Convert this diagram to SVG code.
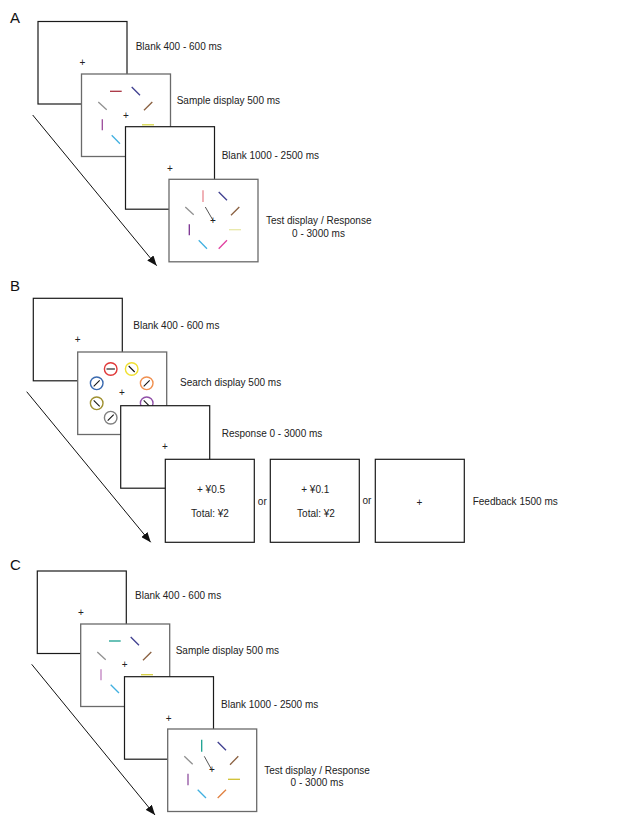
<svg xmlns="http://www.w3.org/2000/svg" width="628" height="825" viewBox="0 0 628 825">
<style>
.blank{fill:#fff;stroke:#1a1a1a;stroke-width:1.2}
.disp{fill:#fff;stroke:#6a6a6a;stroke-width:1.3}
.lbl{font-family:"Liberation Sans",Arial,sans-serif;font-size:10px;fill:#222}
.mid{text-anchor:middle}
.fx{font-family:"Liberation Sans",Arial,sans-serif;font-size:10px;fill:#222;text-anchor:middle}
.let{font-family:"Liberation Sans",Arial,sans-serif;font-size:15px;fill:#111}
.bar{stroke-width:1.3;fill:none}
.ring{fill:#fff;stroke-width:1.4}
.tick{stroke:#111;stroke-width:1.1}
.probe{stroke:#555;stroke-width:1}
.arr{stroke:#111;stroke-width:1;fill:none}
</style>
<defs>
<marker id="ah" viewBox="0 0 10 8" refX="10" refY="4" markerWidth="10" markerHeight="8" markerUnits="userSpaceOnUse" orient="auto">
<path d="M0,0 L10,4 L0,8 Z" fill="#111"/>
</marker>
</defs>
<rect width="628" height="825" fill="#fff"/>

<text class="let" x="10" y="23">A</text>
<text class="let" x="10" y="291">B</text>
<text class="let" x="10" y="570">C</text>

<g id="connectors">
<line class="arr" x1="32.7" y1="115" x2="156.7" y2="265.7" marker-end="url(#ah)"/>
<line class="arr" x1="26.7" y1="391.7" x2="150.7" y2="542.3" marker-end="url(#ah)"/>
<line class="arr" x1="31.7" y1="664.3" x2="155" y2="815" marker-end="url(#ah)"/>
</g>

<!-- Panel A -->
<g id="A-blank1">
<rect class="blank" x="38" y="21.5" width="89" height="82.5"/>
<text class="fx" x="82.3" y="66.3">+</text>
<text class="lbl" x="135.7" y="49.5">Blank 400 - 600 ms</text>
</g>
<g id="A-sample">
<rect class="disp" x="81.5" y="74" width="89" height="82.5"/>
<line class="bar" stroke="#a83240" x1="110" y1="91.3" x2="121.7" y2="91.3"/>
<line class="bar" stroke="#404090" x1="131.7" y1="87" x2="140" y2="95.3"/>
<line class="bar" stroke="#909090" x1="98.3" y1="102" x2="106.7" y2="109.7"/>
<line class="bar" stroke="#8a6040" x1="144" y1="110.3" x2="152.3" y2="102"/>
<line class="bar" stroke="#9a4a9a" x1="102.3" y1="119.3" x2="102.3" y2="130.3"/>
<line class="bar" stroke="#d8d848" stroke-width="2.3" x1="142" y1="124.8" x2="154" y2="124.8"/>
<line class="bar" stroke="#40b0e0" x1="111.7" y1="135.3" x2="120" y2="143.7"/>
<text class="fx" x="126" y="119.3">+</text>
<text class="lbl" x="176.7" y="103.5">Sample display 500 ms</text>
</g>
<g id="A-blank2">
<rect class="blank" x="125.5" y="126.7" width="89" height="82.5"/>
<text class="fx" x="170" y="171.9">+</text>
<text class="lbl" x="221.7" y="158.5">Blank 1000 - 2500 ms</text>
</g>
<g id="A-test">
<rect class="disp" x="169" y="179.3" width="89" height="82.5"/>
<line class="bar" stroke="#e88890" stroke-width="2" x1="203" y1="190.3" x2="203" y2="202"/>
<line class="bar" stroke="#404090" x1="218.7" y1="192" x2="227" y2="200.3"/>
<line class="bar" stroke="#909090" x1="185.3" y1="207" x2="193.7" y2="214.7"/>
<line class="bar" stroke="#8a6040" x1="231" y1="215.3" x2="239.3" y2="207"/>
<line class="probe" x1="205.3" y1="207" x2="213" y2="220.3"/>
<line class="bar" stroke="#7a3090" x1="189.3" y1="224.3" x2="189.3" y2="235.3"/>
<line class="bar" stroke="#e8e8a8" stroke-width="2" x1="229" y1="229.7" x2="241" y2="229.7"/>
<line class="bar" stroke="#40b0e0" x1="198.7" y1="240.3" x2="207" y2="248.7"/>
<line class="bar" stroke="#e040a0" x1="218.7" y1="248.7" x2="227" y2="240.3"/>
<text class="fx" x="213" y="224.3">+</text>
<text class="lbl mid" x="318.7" y="224.2">Test display / Response</text>
<text class="lbl mid" x="318.5" y="236.8">0 - 3000 ms</text>
</g>

<!-- Panel B -->
<g id="B-blank">
<rect class="blank" x="33.3" y="298.3" width="89" height="82.5"/>
<text class="fx" x="77.7" y="342.6">+</text>
<text class="lbl" x="133.3" y="328.5">Blank 400 - 600 ms</text>
</g>
<g id="B-search">
<rect class="disp" x="77.7" y="352" width="89" height="82.5"/>
<circle class="ring" stroke="#e03838" cx="110.7" cy="369" r="6.3"/>
<line class="tick" x1="106.5" y1="369" x2="114.9" y2="369"/>
<circle class="ring" stroke="#f0e030" cx="131.7" cy="369" r="6.3"/>
<line class="tick" x1="128.7" y1="366" x2="134.7" y2="372"/>
<circle class="ring" stroke="#3a6ab0" cx="96.7" cy="383.3" r="6.3"/>
<line class="tick" x1="93.7" y1="386.3" x2="99.7" y2="380.3"/>
<circle class="ring" stroke="#f09050" cx="146.7" cy="383.3" r="6.3"/>
<line class="tick" x1="143.7" y1="386.3" x2="149.7" y2="380.3"/>
<circle class="ring" stroke="#a09030" cx="96.7" cy="403.3" r="6.3"/>
<line class="tick" x1="93.7" y1="400.3" x2="99.7" y2="406.3"/>
<circle class="ring" stroke="#9050a8" cx="146.7" cy="403.3" r="6.3"/>
<line class="tick" x1="143.7" y1="400.3" x2="149.7" y2="406.3"/>
<circle class="ring" stroke="#808080" cx="110.7" cy="417.7" r="6.3"/>
<line class="tick" x1="107.7" y1="420.7" x2="113.7" y2="414.7"/>
<text class="fx" x="122" y="396.3">+</text>
<text class="lbl" x="180" y="385.8">Search display 500 ms</text>
</g>
<g id="B-response">
<rect class="blank" x="120.7" y="405.7" width="89" height="82.5"/>
<text class="fx" x="165" y="450.3">+</text>
<text class="lbl" x="221.7" y="436.5">Response 0 - 3000 ms</text>
</g>
<g id="B-feedback1">
<rect class="blank" x="165.3" y="459.3" width="89" height="83"/>
<text class="lbl mid" x="211" y="492.5">+ ¥0.5</text>
<text class="lbl mid" x="210" y="517">Total: ¥2</text>
</g>
<text class="lbl mid" x="262.3" y="505">or</text>
<g id="B-feedback2">
<rect class="blank" x="270.3" y="459.3" width="89" height="83"/>
<text class="lbl mid" x="315.3" y="492.5">+ ¥0.1</text>
<text class="lbl mid" x="316" y="517">Total: ¥2</text>
</g>
<text class="lbl mid" x="367" y="504">or</text>
<g id="B-feedback3">
<rect class="blank" x="375.3" y="459.3" width="89" height="83"/>
<text class="fx" x="419.3" y="505.6">+</text>
<text class="lbl" x="472.7" y="505.2">Feedback 1500 ms</text>
</g>

<!-- Panel C -->
<g id="C-blank1">
<rect class="blank" x="37.3" y="571" width="89" height="82.5"/>
<text class="fx" x="81" y="615.6">+</text>
<text class="lbl" x="135" y="598.5">Blank 400 - 600 ms</text>
</g>
<g id="C-sample">
<rect class="disp" x="80.7" y="624" width="89" height="82.5"/>
<line class="bar" stroke="#1aa090" stroke-width="3" x1="109" y1="641" x2="120.7" y2="641"/>
<line class="bar" stroke="#404090" x1="130.7" y1="637" x2="139" y2="645.3"/>
<line class="bar" stroke="#909090" x1="97.3" y1="652" x2="105.7" y2="659.7"/>
<line class="bar" stroke="#8a6040" x1="143" y1="660.3" x2="151.3" y2="652"/>
<line class="bar" stroke="#c080c0" stroke-width="2" x1="101" y1="669.3" x2="101" y2="680.3"/>
<line class="bar" stroke="#d8d040" stroke-width="1.8" x1="141" y1="674.7" x2="153" y2="674.7"/>
<line class="bar" stroke="#40b0e0" x1="110.7" y1="684.7" x2="119" y2="693"/>
<text class="fx" x="124.7" y="668.3">+</text>
<text class="lbl" x="175.7" y="653.5">Sample display 500 ms</text>
</g>
<g id="C-blank2">
<rect class="blank" x="124.5" y="676.7" width="89" height="82.5"/>
<text class="fx" x="168.7" y="721.9">+</text>
<text class="lbl" x="221" y="707.8">Blank 1000 - 2500 ms</text>
</g>
<g id="C-test">
<rect class="disp" x="167.7" y="729" width="89" height="82.5"/>
<line class="bar" stroke="#1aa090" stroke-width="3" x1="201.7" y1="739.7" x2="201.7" y2="751.7"/>
<line class="bar" stroke="#404090" x1="217.7" y1="742" x2="226" y2="750.3"/>
<line class="bar" stroke="#909090" x1="184.3" y1="756.3" x2="192.7" y2="764.3"/>
<line class="bar" stroke="#8a6040" x1="230" y1="764.7" x2="238.3" y2="756.3"/>
<line class="probe" x1="204.3" y1="756.3" x2="212" y2="770.3"/>
<line class="bar" stroke="#9050a0" x1="188" y1="773.7" x2="188" y2="785.3"/>
<line class="bar" stroke="#d0c030" x1="228" y1="779.3" x2="240" y2="779.3"/>
<line class="bar" stroke="#40b0e0" x1="197.7" y1="789.7" x2="206" y2="798"/>
<line class="bar" stroke="#e08040" x1="217.7" y1="798" x2="226" y2="789.7"/>
<text class="fx" x="212" y="773.3">+</text>
<text class="lbl mid" x="317" y="773.5">Test display / Response</text>
<text class="lbl mid" x="317" y="786.2">0 - 3000 ms</text>
</g>
</svg>
